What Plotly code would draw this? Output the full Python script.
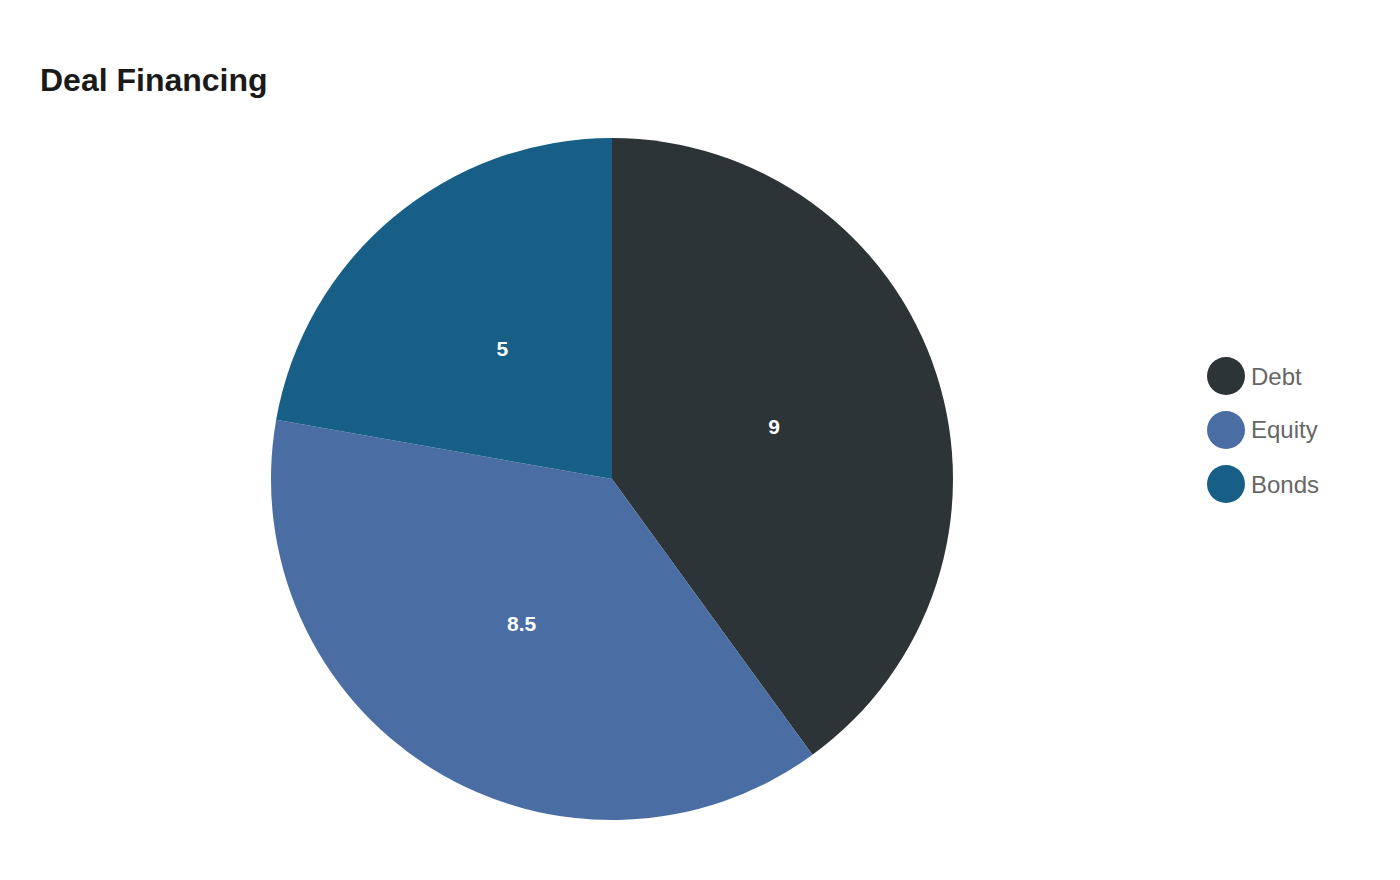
import plotly.graph_objects as go

# dati
categorie = ['Debt', 'Equity', 'Bonds']
valori = [9, 8.5, 5]
colori = ['#2c3437', '#4a6da3', '#175f86']

W, H = 1400, 880
OFF = 8  # margine del body della pagina

font_base = 'Liberation Sans, Arial, sans-serif'

fig = go.Figure()

# torta principale (senza testo)
fig.add_trace(go.Pie(
    labels=categorie, values=valori,
    marker=dict(colors=colori),
    sort=False, direction='clockwise', rotation=0,
    textinfo='none',
    domain=dict(x=[(271 - OFF) / W, (953 - OFF) / W], y=[(60 + OFF) / H, (742 + OFF) / H]),
    showlegend=False, hoverinfo='label+value',
))

# torta trasparente sopra per mettere le etichette a metà raggio
fig.add_trace(go.Pie(
    labels=categorie, values=valori,
    marker=dict(colors=['rgba(0,0,0,0)'] * 3, line=dict(width=0)),
    sort=False, direction='clockwise', rotation=0, hole=0.42,
    textinfo='value', textposition='inside', insidetextorientation='horizontal',
    insidetextfont=dict(family=font_base, size=21, color='white', weight='bold'),
    domain=dict(x=[(372 - OFF) / W, (852 - OFF) / W], y=[(1 - (719 - OFF) / H), (1 - (239 - OFF) / H)]),
    showlegend=False, hoverinfo='skip',
))

# legenda fatta a mano con cerchi grandi
shapes = []
annotations = []
for i, (nome, col) in enumerate(zip(categorie, colori)):
    cy = 376 + i * 54 - OFF
    shapes.append(dict(type='circle', xref='paper', yref='paper',
                       x0=(1207 - OFF) / W, x1=(1245 - OFF) / W, y0=1 - (cy + 19) / H, y1=1 - (cy - 19) / H,
                       fillcolor=col, line=dict(width=0)))
    annotations.append(dict(text=nome, xref='paper', yref='paper', x=(1249 - OFF) / W, y=1 - cy / H,
                            xanchor='left', yanchor='middle', showarrow=False,
                            font=dict(family=font_base, size=24, color='#666666')))

fig.update_layout(
    width=W, height=H,
    margin=dict(l=0, r=0, t=0, b=0),
    paper_bgcolor='white', plot_bgcolor='white',
    title=dict(text='<b>Deal Financing</b>', x=(40 - OFF) / W, xanchor='left', y=1 - (80 - OFF) / H, yanchor='middle',
               font=dict(family=font_base, size=32, color='#1a1a1a')),
    shapes=shapes, annotations=annotations,
)

fig.write_html("out.html")
